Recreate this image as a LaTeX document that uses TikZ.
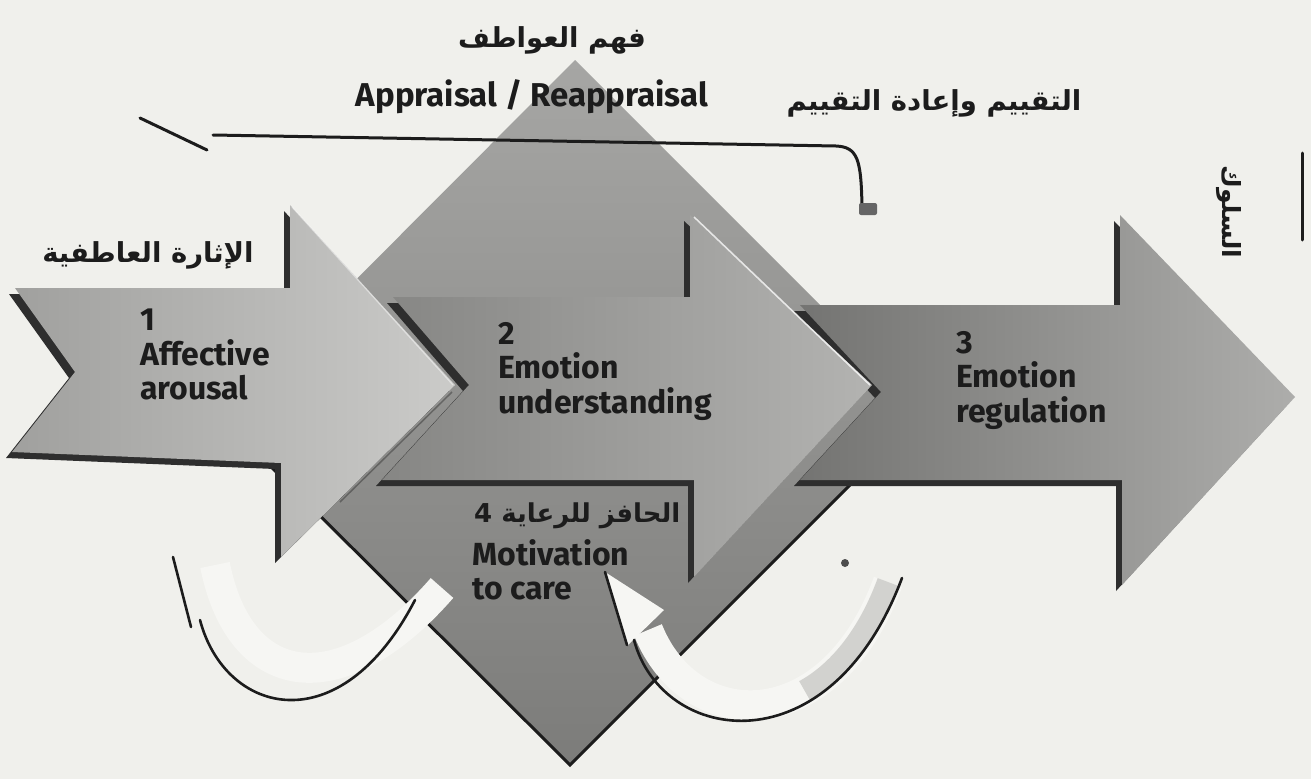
\documentclass[tikz,border=0pt]{standalone}
\usepackage{fontspec}
\setmainfont{Fira Sans}
\newfontfamily\arabicfont[Script=Arabic]{DejaVu Sans}
\TeXXeTstate=1
\definecolor{bg}{HTML}{F0F0EC}
\definecolor{dmtop}{HTML}{A6A6A4}
\definecolor{dmbot}{HTML}{7C7C7A}
\definecolor{aoneL}{HTML}{A0A09E}
\definecolor{aoneR}{HTML}{CBCBC9}
\definecolor{atwoL}{HTML}{868684}
\definecolor{atwoR}{HTML}{B3B3B1}
\definecolor{athreeL}{HTML}{747472}
\definecolor{athreeR}{HTML}{ADADAB}
\definecolor{ink}{HTML}{1C1C1C}
\definecolor{band}{HTML}{F6F6F3}
\definecolor{bandgray}{HTML}{C4C4C1}
\def\arrowone{(15,288) -- (290,288) -- (290,205) -- (455,385) -- (281,557) -- (281,463) -- (12,452) -- (75,372) -- cycle}
\def\arrowtwo{(393,297) -- (690,297) -- (690,215) -- (872,385) -- (694,577) -- (694,480) -- (382,480) -- (469,385) -- cycle}
\def\arrowthree{(800,305) -- (1120,305) -- (1120,215) -- (1295,397) -- (1122,585) -- (1122,480) -- (800,480) -- (881,392) -- cycle}
\tikzset{
  lab/.style={font=\fontsize{32}{34.5}\selectfont\bfseries, text=ink, align=left, inner sep=0pt},
  arab/.style={font=\arabicfont\bfseries\fontsize{27.5}{32}\selectfont, text=ink, inner sep=0pt},
  shadowfill/.style={fill=black!82},
  edgeline/.style={draw=ink, line width=3pt, line cap=round},
  curveedge/.style={draw=ink, line width=2.6pt, line cap=round},
}
\begin{document}
\begin{tikzpicture}[x=1pt,y=-1pt]
\useasboundingbox (0,0) rectangle (1311,779);
\fill[bg] (0,0) rectangle (1311,779);

% diamond
\shade[top color=dmtop, bottom color=dmbot] (575,60) -- (925,410) -- (570,765) -- (220,416) -- cycle;
\draw[ink, line width=3pt] (220,416) -- (570,765) -- (925,410);

% arrow 3
\begin{scope}[shift={(-6,6)}]
  \fill[shadowfill] \arrowthree;
\end{scope}
\shade[left color=athreeL, right color=athreeR] \arrowthree;

% arrow 2
\begin{scope}[shift={(-6,6)}]
  \fill[shadowfill] \arrowtwo;
\end{scope}
\shade[left color=atwoL, right color=atwoR] \arrowtwo;
\draw[white, opacity=.75, line width=1.6pt] (694,217) -- (870,385);

% arrow 1
\begin{scope}[shift={(-6,6)}]
  \fill[shadowfill] \arrowone;
\end{scope}
\shade[left color=aoneL, right color=aoneR] \arrowone;
\draw[black, opacity=.3, line width=1.5pt] (452,392) -- (340,502);
\draw[white, opacity=.45, line width=1.2pt] (292,207) -- (453,385);

% left curved arrow
\coordinate (lc1) at (215,565);
\coordinate (lc2) at (442,588);
\draw[band, line width=30pt] (lc1) .. controls (240,690) and (340,705) .. (lc2);
\draw[curveedge] (173,557) -- (191,627);
\draw[curveedge] (200,620) .. controls (225,715) and (340,745) .. (415,600);

% right curved arrow
\coordinate (rc1) at (888,582);
\coordinate (rc2) at (648,630);
\coordinate (rtip) at (605,572);
\draw[band, line width=30pt] (rc1) .. controls (830,740) and (690,735) .. (rc2);
\draw[bandgray, line width=22pt, opacity=.7] (rc1) .. controls (867.7,637.3) and (837.35,672.65) .. (804.6,690.7);
\fill[band] (rtip) -- (664,610) -- (628,645) -- cycle;
\draw[curveedge] (rtip) -- (627,645);
\draw[curveedge] (634,640) .. controls (662,745) and (830,770) .. (902,578);

% specks and loose strokes
\fill[black!70] (845,563) circle (4);
\draw[edgeline] (1302,153) -- (1302,240);
\draw[edgeline] (140,118) -- (207,150);

% appraisal bracket
\coordinate (br1) at (213,135);
\coordinate (br2) at (862,206);
\draw[edgeline] (br1) -- (836,146) .. controls (858,147) and (861,160) .. (br2);
\fill[black!60, rounded corners=2pt] (859,203) rectangle (877,215);

% texts
\node[arab] (t-fahm) at (552,40) {\beginR فهم العواطف\endR};
\node[font=\fontsize{33}{36}\selectfont\bfseries, text=ink, inner sep=0pt] (t-appr) at (532,97) {Appraisal / Reappraisal};
\node[arab] (t-taq) at (934,103) {\beginR التقييم وإعادة التقييم\endR};
\node[arab] (t-ithara) at (148,255) {\beginR الإثارة العاطفية\endR};
\node[arab, rotate=-90, font=\arabicfont\bfseries\fontsize{25}{30}\selectfont] (t-sul) at (1229,212) {\beginR السلوك\endR};

\node[lab, anchor=north west] (t-one) at (140,309) {1\\Affective\\arousal};
\node[lab, anchor=north west] (t-two) at (498,322) {2\\Emotion\\understanding};
\node[lab, anchor=north west] (t-three) at (956,331) {3\\Emotion\\regulation};
\node[arab, anchor=base west, font=\arabicfont\bfseries\fontsize{26}{30}\selectfont] (t-haf) at (474,522) {\beginR الحافز للرعاية 4\endR};
\node[lab, anchor=north west] (t-four) at (472,539) {Motivation\\to care};
\end{tikzpicture}
\end{document}
